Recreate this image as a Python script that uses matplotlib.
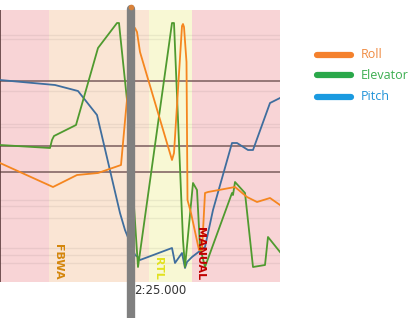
import matplotlib
matplotlib.use("Agg")
import matplotlib.pyplot as plt
from matplotlib.lines import Line2D

# time axis (chart units) and the three traces
pitch_t = [0, 55, 78, 97, 120, 125, 135, 138, 140, 172, 175, 182, 185, 187, 192, 205, 213, 232, 237, 248, 253, 270, 280]
pitch_v = [202, 197, 191, 167, 69, 52, 27, 25, 22, 34, 19, 29, 14, 20, 25, 35, 72, 139, 139, 132, 132, 179, 184]

elev_t = [0, 50, 52, 54, 76, 98, 117, 119, 120, 127, 138, 172, 174, 183, 185, 193, 197, 200, 205, 232, 233, 235, 245, 253, 265, 268, 280]
elev_v = [137, 134, 142, 146, 157, 234, 259, 259, 249, 182, 15, 259, 259, 42, 15, 99, 92, 35, 15, 89, 87, 100, 89, 15, 17, 45, 30]

roll_t = [0, 53, 77, 98, 121, 126, 134, 135, 137, 140, 172, 174, 182, 183, 184, 186.5, 187.5, 191, 199, 202, 205, 208, 235, 247, 257, 270, 280]
roll_v = [119, 95, 107, 109, 117, 172, 252, 254, 250, 230, 122, 129, 256, 258, 255, 220, 82, 69, 32, 32, 89, 90, 95, 85, 80, 84, 77]

# flight mode segments
mode_names = ["", "FBWA", "RTL", "MANUAL"]
mode_start = [0, 49, 149, 192]
mode_end = [49, 149, 192, 280]
mode_bg = ["#f8d4d6", "#fae5d4", "#f8f8d4", "#f8d4d6"]
mode_fg = [None, "#d4860b", "#e2e21e", "#c00000"]

dark_levels = [201, 136, 110]
faint_levels = [247, 243, 191, 158, 155, 82, 76, 64, 34, 27, 19]

cursor_t = 130.5
cursor_label = "2:25.000"

W, H = 412, 318
fig = plt.figure(figsize=(W / 100, H / 100), dpi=100)
ax = fig.add_axes([0, (H - 282) / H, 280 / W, 272 / H])

for s, e, c in zip(mode_start, mode_end, mode_bg):
    ax.axvspan(s, e, color=c, lw=0, zorder=0)

for y in faint_levels:
    ax.axhline(y, color="#000000", alpha=0.06, lw=1, zorder=1)
for y in dark_levels:
    ax.axhline(y, color="#7a5c5c", lw=1.1, zorder=1)

ax.axvline(0.4, color="#5a3a3a", lw=1.2, zorder=2)

ax.plot(pitch_t, pitch_v, color="#3f6e9e", lw=1.3, zorder=3)
ax.plot(elev_t, elev_v, color="#4f9a2f", lw=1.3, zorder=3)
ax.plot(roll_t, roll_v, color="#f5861f", lw=1.3, zorder=3)

for name, s, c in zip(mode_names, mode_start, mode_fg):
    if name:
        ax.text(s + 3.5, 2, name, rotation=270, color=c, fontsize=8,
                fontweight="bold", ha="left", va="bottom", zorder=4)

ax.set_xlim(0, 280)
ax.set_ylim(0, 272)
ax.set_xticks([])
ax.set_yticks([])
for sp in ax.spines.values():
    sp.set_visible(False)

# cursor bar running past the bottom of the plot
ax.plot([cursor_t, cursor_t], [-40, 273], color="#808080", lw=6,
        solid_capstyle="round", clip_on=False, zorder=5)
ax.plot([cursor_t], [275], "o", color="#d9823a", ms=3, clip_on=False, zorder=6)
ax.text(cursor_t + 4, -9, cursor_label, fontsize=8.5, color="#333333",
        ha="left", va="center", clip_on=False)

# legend
legend_names = ["Roll", "Elevator", "Pitch"]
legend_colors = ["#f4812d", "#2aa84a", "#1a9ae0"]
text_colors = ["#f08a40", "#3cae50", "#2093d8"]
legend_rows = [55, 75, 97]
for n, c, tc, r in zip(legend_names, legend_colors, text_colors, legend_rows):
    y = 1 - r / H
    fig.add_artist(Line2D([317 / W, 351 / W], [y, y], lw=4.5, color=c,
                          solid_capstyle="round"))
    fig.text(361 / W, y, n, color=tc, fontsize=9, family="Open Sans",
             va="center", ha="left")

fig.savefig("out.png", dpi=100, facecolor="white")
